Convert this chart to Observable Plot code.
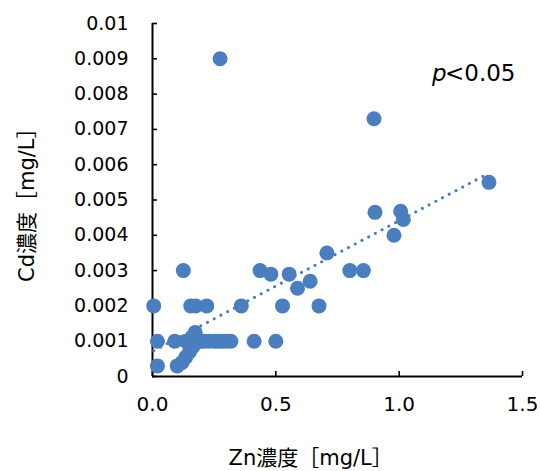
<!DOCTYPE html>
<html>
<head>
<meta charset="utf-8">
<script src="https://cdn.jsdelivr.net/npm/d3@7"></script>
<script src="https://cdn.jsdelivr.net/npm/@observablehq/plot@0.6"></script>
<style>
  html, body { margin: 0; padding: 0; background: #fff; }
  #chart { width: 540px; height: 471px; }
</style>
</head>
<body>
<div id="chart"></div>
<script>
// Zn concentration [mg/L]
const zn = [
  0.005, 0.155, 0.175, 0.22, 0.36, 0.527, 0.675,
  0.125, 0.436, 0.48, 0.554, 0.588, 0.639, 0.707, 0.80, 0.855,
  0.274, 0.898, 0.902, 1.006, 1.017, 0.979, 1.364,
  0.02, 0.09, 0.135, 0.15, 0.162, 0.18, 0.196, 0.21, 0.23, 0.25, 0.263, 0.28, 0.298, 0.318, 0.412, 0.50,
  0.173, 0.165, 0.15, 0.135, 0.12, 0.02, 0.10
];
// Cd concentration [mg/L]
const cd = [
  0.002, 0.002, 0.002, 0.002, 0.002, 0.002, 0.002,
  0.003, 0.003, 0.0029, 0.0029, 0.0025, 0.0027, 0.0035, 0.003, 0.003,
  0.009, 0.0073, 0.00465, 0.00468, 0.00445, 0.004, 0.0055,
  0.001, 0.001, 0.001, 0.001, 0.001, 0.001, 0.001, 0.001, 0.001, 0.001, 0.001, 0.001, 0.001, 0.001, 0.001, 0.001,
  0.00125, 0.00085, 0.0007, 0.00055, 0.0004, 0.0003, 0.0003
];
const xTicks = [0, 0.5, 1.0, 1.5];
const yTicks = [0, 0.001, 0.002, 0.003, 0.004, 0.005, 0.006, 0.007, 0.008, 0.009, 0.01];
const xTitle = ["Zn濃度［mg/L］"];
const yTitle = ["Cd濃度［mg/L］"];
const pLabel = ["p"];
const pValue = ["<0.05"];

const data = zn.map((x, i) => ({zn: x, cd: cd[i]}));
const blue = "#4a7ebf";
const font = "'DejaVu Sans', 'Noto Sans CJK JP', sans-serif";

const chart = Plot.plot({
  width: 540,
  height: 471,
  marginLeft: 152,
  marginRight: 18,
  marginTop: 23,
  marginBottom: 95,
  style: {fontFamily: font, fontSize: "19px", color: "#000", background: "#fff"},
  x: {domain: [0, 1.5]},
  y: {domain: [0, 0.01]},
  marks: [
    Plot.axisY({ticks: yTicks, tickSize: 0, tickPadding: 24, label: null,
      tickFormat: d => d === 0 ? "0" : String(+d.toFixed(3)), fontSize: 19}),
    Plot.axisY({ticks: yTicks, tickSize: -5, tickFormat: () => "", label: null, strokeWidth: 1.6}),
    Plot.axisX({ticks: xTicks, tickSize: 0, tickPadding: 20, label: null,
      tickFormat: d => d.toFixed(1), fontSize: 20}),
    Plot.axisX({ticks: xTicks, tickSize: -5, tickFormat: () => "", label: null, strokeWidth: 1.6}),
    Plot.ruleX([0], {stroke: "#000", strokeWidth: 2}),
    Plot.ruleY([0], {stroke: "#000", strokeWidth: 2}),
    Plot.linearRegressionY(data, {x: "zn", y: "cd", ci: 0, stroke: blue, strokeWidth: 3,
      strokeDasharray: "0.1 7.5", strokeLinecap: "round"}),
    Plot.dot(data, {x: "zn", y: "cd", r: 7.5, fill: blue, stroke: "none"}),
    Plot.text(pLabel, {text: d => d, frameAnchor: "top-right", textAnchor: "end", lineAnchor: "middle",
      dx: -76, dy: 50, fontSize: 23, fontStyle: "italic", fill: "#000"}),
    Plot.text(pValue, {text: d => d, frameAnchor: "top-right", textAnchor: "end", lineAnchor: "middle",
      dx: -7, dy: 50, fontSize: 23, fill: "#000"}),
    Plot.text(xTitle, {text: d => d, frameAnchor: "bottom", textAnchor: "start", lineAnchor: "middle",
      dx: -109, dy: 82, fontSize: 21, fill: "#000"}),
    Plot.text(yTitle, {text: d => d, frameAnchor: "left", textAnchor: "start", lineAnchor: "middle", rotate: -90,
      dx: -125, dy: 82, fontSize: 21, fill: "#000"})
  ]
});
document.getElementById("chart").appendChild(chart);
</script>
</body>
</html>
